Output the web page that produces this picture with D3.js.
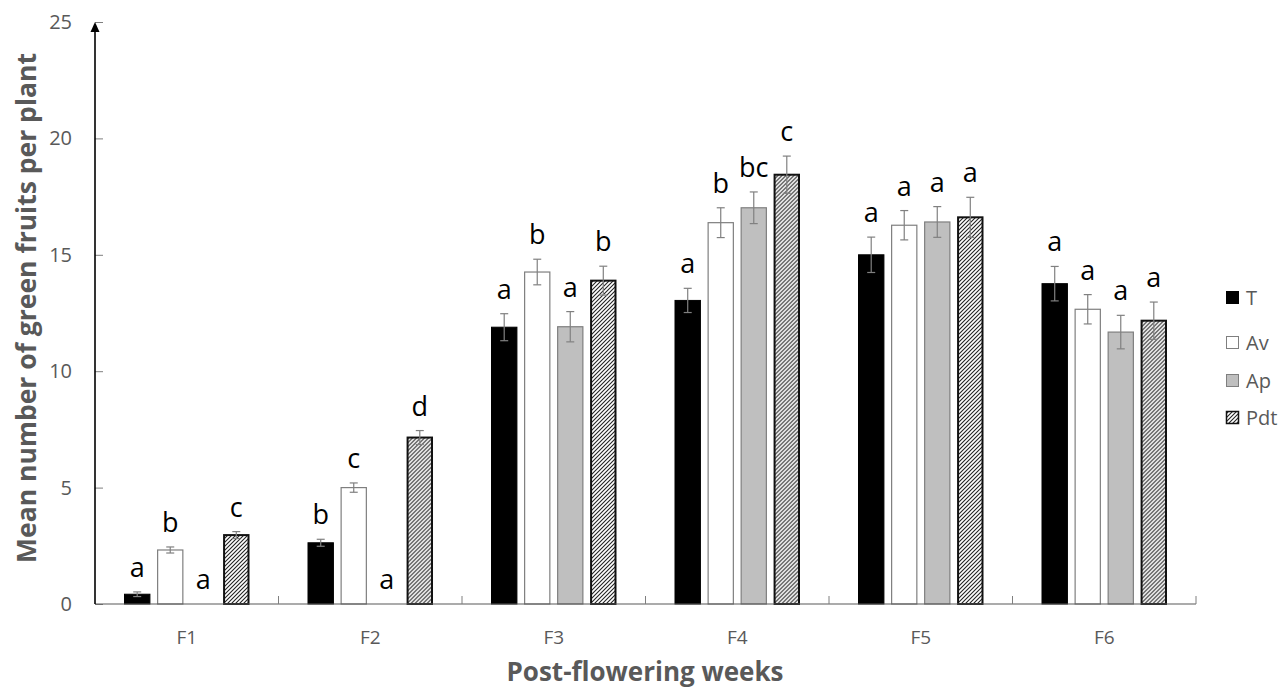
<!DOCTYPE html>
<html><head><meta charset="utf-8">
<script src="https://cdn.jsdelivr.net/npm/d3@7"></script>
<style>body{margin:0;background:#fff}svg{display:block}</style>
</head><body>
<svg id="c" width="1280" height="689"></svg>
<script>
const categories = ["F1","F2","F3","F4","F5","F6"];
const series = ["T","Av","Ap","Pdt"];
const valT   = [0.42, 2.63, 11.89, 13.04, 15.00, 13.76];
const valAv  = [2.32, 5.00, 14.26, 16.38, 16.27, 12.66];
const valAp  = [0, 0, 11.91, 17.02, 16.41, 11.68];
const valPdt = [2.96, 7.15, 13.89, 18.44, 16.61, 12.17];
const errT   = [0.10, 0.15, 0.58, 0.52, 0.76, 0.74];
const errAv  = [0.13, 0.20, 0.55, 0.64, 0.63, 0.63];
const errAp  = [0, 0, 0.65, 0.68, 0.66, 0.72];
const errPdt = [0.15, 0.30, 0.62, 0.80, 0.86, 0.80];
const letT   = ["a","b","a","a","a","a"];
const letAv  = ["b","c","b","b","a","a"];
const letAp  = ["a","a","a","bc","a","a"];
const letPdt = ["c","d","b","c","a","a"];
const yTicks = [0,5,10,15,20,25];

const vals = {T:valT, Av:valAv, Ap:valAp, Pdt:valPdt};
const errs = {T:errT, Av:errAv, Ap:errAp, Pdt:errPdt};
const lets = {T:letT, Av:letAv, Ap:letAp, Pdt:letPdt};

const svg = d3.select("#c");
const defs = svg.append("defs");
const pat = defs.append("pattern").attr("id","hatch").attr("patternUnits","userSpaceOnUse")
  .attr("width",4).attr("height",4);
pat.append("rect").attr("width",4).attr("height",4).attr("fill","#fff");
pat.append("path").attr("d","M-1,1 l2,-2 M0,4 l4,-4 M3,5 l2,-2").attr("stroke","#222").attr("stroke-width",1.1);

const fills = {T:"#000", Av:"#fff", Ap:"#bfbfbf", Pdt:"url(#hatch)"};
const strokes = {T:"#000", Av:"#7f7f7f", Ap:"#7f7f7f", Pdt:"#111"};
const sw = {T:1, Av:1.2, Ap:1.2, Pdt:2};

const x0 = d3.scaleBand().domain(categories).range([95,1196]).padding(0);
const x1 = d3.scaleBand().domain(series).range([29, x0.bandwidth()-29]).paddingInner(0.2).paddingOuter(0);
const y = d3.scaleLinear().domain([0,25]).range([604,22]);

const txt = "#595959";
const font = "'Open Sans', sans-serif";

// y ticks
const yAxis = svg.append("g").attr("transform","translate(95,0)")
  .call(d3.axisRight(y).tickValues(yTicks).tickSize(8).tickFormat(""));
yAxis.select(".domain").remove();
yAxis.selectAll(".tick line").attr("stroke","#7f7f7f");
svg.append("g").selectAll("text").data(yTicks).join("text")
  .attr("x",72).attr("y",d=>y(d)).attr("dy","0.35em").attr("text-anchor","end")
  .attr("font-family",font).attr("font-size",20).attr("fill",txt).text(d=>d);

// bars
const groups = svg.append("g").selectAll("g").data(categories).join("g")
  .attr("transform",d=>`translate(${x0(d)},0)`);
groups.each(function(cat,i){
  const g = d3.select(this);
  series.forEach(s=>{
    const v = vals[s][i], e = errs[s][i];
    const bx = x1(s), bw = x1.bandwidth();
    if (v > 0) {
      g.append("rect").attr("x",bx+sw[s]/2).attr("y",y(v)).attr("width",bw-sw[s]).attr("height",y(0)-y(v))
        .attr("fill",fills[s]).attr("stroke",strokes[s]).attr("stroke-width",sw[s]);
    }
    if (e > 0) {
      const cx = bx + bw/2;
      g.append("line").attr("x1",cx).attr("x2",cx).attr("y1",y(v-e)).attr("y2",y(v+e)).attr("stroke","#808080").attr("stroke-width",1.2);
      [v-e, v+e].forEach(t=>g.append("line").attr("x1",cx-4).attr("x2",cx+4).attr("y1",y(t)).attr("y2",y(t)).attr("stroke","#808080").attr("stroke-width",1.2));
    }
    g.append("text").attr("x",bx+bw/2).attr("y",y(v+e)-15).attr("text-anchor","middle")
      .attr("font-family",font).attr("font-size",27).attr("fill","#000").text(lets[s][i]);
  });
});

// x axis
const xAxis = svg.append("g").attr("transform","translate(0,604)");
xAxis.append("line").attr("x1",95).attr("x2",1196).attr("stroke","#595959").attr("stroke-width",1.2);
xAxis.selectAll(".bt").data(categories).join("line").attr("class","bt")
  .attr("x1",d=>x0(d)+x0.bandwidth()).attr("x2",d=>x0(d)+x0.bandwidth()).attr("y1",0).attr("y2",-8)
  .attr("stroke","#7f7f7f");
svg.append("g").selectAll("text").data(categories).join("text")
  .attr("x",d=>x0(d)+x0.bandwidth()/2).attr("y",644).attr("text-anchor","middle")
  .attr("font-family",font).attr("font-size",19).attr("fill",txt).text(d=>d);

// y axis line with arrow
svg.append("line").attr("x1",95).attr("x2",95).attr("y1",604).attr("y2",30)
  .attr("stroke","#000").attr("stroke-width",1.6);
svg.append("path").attr("d",`M95,${y(25)} L99.5,${y(25)+10} L90.5,${y(25)+10} Z`).attr("fill","#000");

// titles
svg.append("text").attr("transform","translate(36,308) rotate(-90)").attr("text-anchor","middle")
  .attr("font-family",font).attr("font-weight","bold").attr("font-size",26.5).attr("fill",txt)
  .text("Mean number of green fruits per plant");
svg.append("text").attr("x",645).attr("y",681).attr("text-anchor","middle")
  .attr("font-family",font).attr("font-weight","bold").attr("font-size",26).attr("fill",txt)
  .text("Post-flowering weeks");

// legend
const legY = [298,343,381,418];
const leg = svg.append("g").selectAll("g").data(series).join("g")
  .attr("transform",(d,i)=>`translate(1226,${legY[i]})`);
leg.append("rect").attr("x",0.5).attr("y",-6.5).attr("width",12).attr("height",12)
  .attr("fill",d=>fills[d]).attr("stroke",d=>d==="Pdt"?"#111":strokes[d]).attr("stroke-width",d=>d==="Pdt"?1.5:1);
leg.append("text").attr("x",20).attr("y",0).attr("dy","0.35em")
  .attr("font-family",font).attr("font-size",20).attr("fill",txt).text(d=>d);
</script>
</body></html>
